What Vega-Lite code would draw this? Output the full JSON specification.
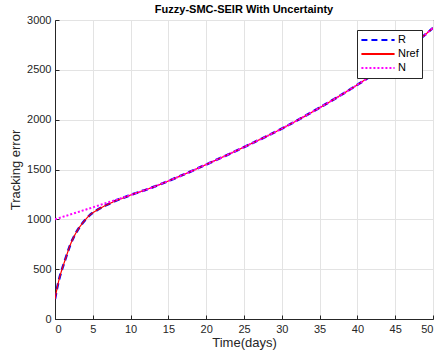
{
  "$schema": "https://vega.github.io/schema/vega-lite/v6.json",
  "width": 378,
  "height": 299,
  "autosize": {"type": "none"},
  "padding": {"left": 55, "top": 20, "right": 6, "bottom": 39},
  "background": "white",
  "title": {
    "text": "Fuzzy-SMC-SEIR With Uncertainty",
    "font": "Liberation Sans",
    "fontSize": 11,
    "fontWeight": "bold",
    "color": "#000000",
    "anchor": "middle",
    "offset": -1
  },
  "config": {
    "view": {"stroke": "#262626", "strokeWidth": 1},
    "axis": {
      "labelFont": "Liberation Sans",
      "titleFont": "Liberation Sans",
      "labelFontSize": 11,
      "titleFontSize": 13,
      "titleFontWeight": "normal",
      "labelColor": "#262626",
      "titleColor": "#262626",
      "domainColor": "#262626",
      "tickColor": "#262626",
      "gridColor": "#e3e3e3",
      "tickSize": -4,
      "format": "d"
    }
  },
  "data": {
    "values": [
      {"series": "R", "t": 0, "v": 200},
      {"series": "R", "t": 0.25, "v": 300},
      {"series": "R", "t": 0.5, "v": 385},
      {"series": "R", "t": 0.75, "v": 455},
      {"series": "R", "t": 1, "v": 515},
      {"series": "R", "t": 1.5, "v": 630},
      {"series": "R", "t": 2, "v": 740},
      {"series": "R", "t": 2.5, "v": 825},
      {"series": "R", "t": 3, "v": 893},
      {"series": "R", "t": 3.5, "v": 948},
      {"series": "R", "t": 4, "v": 995},
      {"series": "R", "t": 4.5, "v": 1035},
      {"series": "R", "t": 5, "v": 1066},
      {"series": "R", "t": 5.5, "v": 1090},
      {"series": "R", "t": 6, "v": 1112},
      {"series": "R", "t": 6.5, "v": 1132},
      {"series": "R", "t": 7, "v": 1150},
      {"series": "R", "t": 7.5, "v": 1168},
      {"series": "R", "t": 8, "v": 1186},
      {"series": "R", "t": 9, "v": 1214},
      {"series": "R", "t": 10, "v": 1244},
      {"series": "R", "t": 12.5, "v": 1310},
      {"series": "R", "t": 15, "v": 1385},
      {"series": "R", "t": 17.5, "v": 1465},
      {"series": "R", "t": 20, "v": 1550},
      {"series": "R", "t": 25, "v": 1725},
      {"series": "R", "t": 30, "v": 1910},
      {"series": "R", "t": 35, "v": 2120},
      {"series": "R", "t": 40, "v": 2350},
      {"series": "R", "t": 45, "v": 2610},
      {"series": "R", "t": 50, "v": 2920},
      {"series": "Nref", "t": 0, "v": 200},
      {"series": "Nref", "t": 0.25, "v": 300},
      {"series": "Nref", "t": 0.5, "v": 385},
      {"series": "Nref", "t": 0.75, "v": 455},
      {"series": "Nref", "t": 1, "v": 515},
      {"series": "Nref", "t": 1.5, "v": 630},
      {"series": "Nref", "t": 2, "v": 740},
      {"series": "Nref", "t": 2.5, "v": 825},
      {"series": "Nref", "t": 3, "v": 893},
      {"series": "Nref", "t": 3.5, "v": 948},
      {"series": "Nref", "t": 4, "v": 995},
      {"series": "Nref", "t": 4.5, "v": 1035},
      {"series": "Nref", "t": 5, "v": 1066},
      {"series": "Nref", "t": 5.5, "v": 1090},
      {"series": "Nref", "t": 6, "v": 1112},
      {"series": "Nref", "t": 6.5, "v": 1132},
      {"series": "Nref", "t": 7, "v": 1150},
      {"series": "Nref", "t": 7.5, "v": 1168},
      {"series": "Nref", "t": 8, "v": 1186},
      {"series": "Nref", "t": 9, "v": 1214},
      {"series": "Nref", "t": 10, "v": 1244},
      {"series": "Nref", "t": 12.5, "v": 1310},
      {"series": "Nref", "t": 15, "v": 1385},
      {"series": "Nref", "t": 17.5, "v": 1465},
      {"series": "Nref", "t": 20, "v": 1550},
      {"series": "Nref", "t": 25, "v": 1725},
      {"series": "Nref", "t": 30, "v": 1910},
      {"series": "Nref", "t": 35, "v": 2120},
      {"series": "Nref", "t": 40, "v": 2350},
      {"series": "Nref", "t": 45, "v": 2610},
      {"series": "Nref", "t": 50, "v": 2920},
      {"series": "N", "t": 0, "v": 1000},
      {"series": "N", "t": 2, "v": 1048},
      {"series": "N", "t": 4, "v": 1096},
      {"series": "N", "t": 6, "v": 1145},
      {"series": "N", "t": 8, "v": 1194},
      {"series": "N", "t": 10, "v": 1244},
      {"series": "N", "t": 12.5, "v": 1310},
      {"series": "N", "t": 15, "v": 1385},
      {"series": "N", "t": 17.5, "v": 1465},
      {"series": "N", "t": 20, "v": 1550},
      {"series": "N", "t": 25, "v": 1725},
      {"series": "N", "t": 30, "v": 1910},
      {"series": "N", "t": 35, "v": 2120},
      {"series": "N", "t": 40, "v": 2350},
      {"series": "N", "t": 45, "v": 2610},
      {"series": "N", "t": 50, "v": 2920}
    ]
  },
  "encoding": {
    "x": {
      "field": "t", "type": "quantitative",
      "scale": {"domain": [0, 50], "nice": false},
      "axis": {"values": [0,5,10,15,20,25,30,35,40,45,50], "title": "Time(days)", "grid": true, "labelPadding": 8, "titlePadding": 2}
    },
    "y": {
      "field": "v", "type": "quantitative",
      "scale": {"domain": [0, 3000], "nice": false},
      "axis": {"values": [0,500,1000,1500,2000,2500,3000], "title": "Tracking error", "grid": true, "labelPadding": 8, "titlePadding": 4}
    },
    "color": {
      "field": "series", "type": "nominal",
      "scale": {"domain": ["R", "Nref", "N"], "range": ["#0000ff", "#ff0000", "#ff00ff"]},
      "legend": {
        "title": null,
        "orient": "none",
        "legendX": 302,
        "legendY": 10,
        "symbolType": "stroke",
        "symbolSize": 1100,
        "symbolStrokeWidth": 2,
        "clipHeight": 14,
        "labelFont": "Liberation Sans",
        "labelFontSize": 11,
        "labelColor": "#000000",
        "fillColor": "#ffffff",
        "strokeColor": "#262626",
        "padding": 3,
        "rowPadding": 0,
        "labelOffset": 2
      }
    },
    "strokeDash": {
      "field": "series", "type": "nominal",
      "scale": {"domain": ["R", "Nref", "N"], "range": [[6, 4], [1, 0], [2, 2]]},
      "legend": null
    }
  },
  "layer": [
    {
      "transform": [{"filter": "datum.series === 'R'"}],
      "mark": {"type": "line", "interpolate": "monotone", "clip": true, "strokeWidth": 2.5}
    },
    {
      "transform": [{"filter": "datum.series === 'Nref'"}],
      "mark": {"type": "line", "interpolate": "monotone", "clip": true, "strokeWidth": 1.2}
    },
    {
      "transform": [{"filter": "datum.series === 'N'"}],
      "mark": {"type": "line", "interpolate": "monotone", "clip": true, "strokeWidth": 2}
    }
  ]
}
